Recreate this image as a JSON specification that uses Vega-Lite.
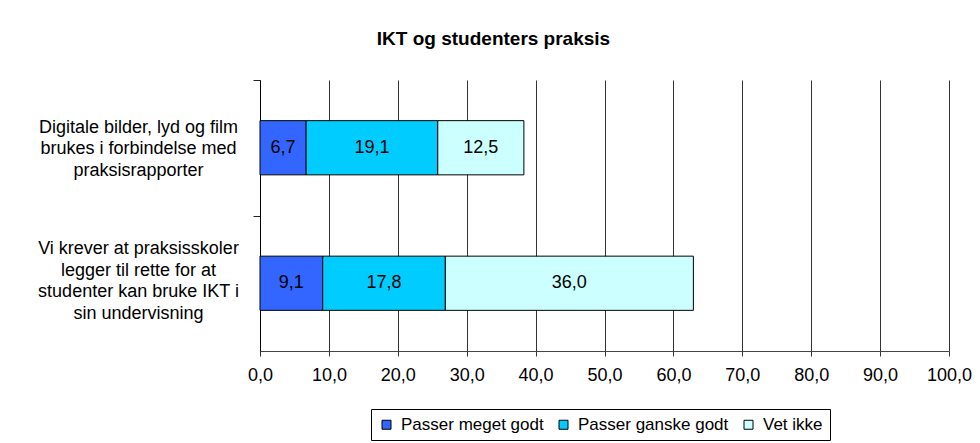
{
  "$schema": "https://vega.github.io/schema/vega-lite/v6.json",
  "width": 689,
  "height": 271,
  "autosize": {"type": "none"},
  "padding": {"left": 260, "top": 80, "right": 31, "bottom": 92},
  "background": "white",
  "title": {
    "text": "IKT og studenters praksis",
    "font": "Liberation Sans",
    "fontSize": 19,
    "fontWeight": "bold",
    "color": "black",
    "anchor": "middle",
    "frame": "group",
    "dx": -111,
    "offset": 31
  },
  "data": {
    "values": [
      {"q": "Digitale bilder, lyd og film|brukes i forbindelse med|praksisrapporter", "kat": "Passer meget godt", "nr": 1, "v": 6.7},
      {"q": "Digitale bilder, lyd og film|brukes i forbindelse med|praksisrapporter", "kat": "Passer ganske godt", "nr": 2, "v": 19.1},
      {"q": "Digitale bilder, lyd og film|brukes i forbindelse med|praksisrapporter", "kat": "Vet ikke", "nr": 3, "v": 12.5},
      {"q": "Vi krever at praksisskoler|legger til rette for at|studenter kan bruke IKT i|sin undervisning", "kat": "Passer meget godt", "nr": 1, "v": 9.1},
      {"q": "Vi krever at praksisskoler|legger til rette for at|studenter kan bruke IKT i|sin undervisning", "kat": "Passer ganske godt", "nr": 2, "v": 17.8},
      {"q": "Vi krever at praksisskoler|legger til rette for at|studenter kan bruke IKT i|sin undervisning", "kat": "Vet ikke", "nr": 3, "v": 36.0}
    ]
  },
  "encoding": {
    "y": {
      "field": "q",
      "type": "nominal",
      "sort": null,
      "scale": {"paddingInner": 0.6, "paddingOuter": 0.3},
      "axis": {
        "title": null,
        "labelExpr": "split(datum.label, '|')",
        "labelAlign": "center",
        "labelBaseline": "middle",
        "labelPadding": 115,
        "labelLineHeight": 21.5,
        "labelFont": "Liberation Sans",
        "labelFontSize": 18,
        "labelColor": "black",
        "labelLimit": 400,
        "tickSize": 7,
        "tickColor": "#222",
        "tickOffset": -67.75,
        "labelOffset": {"condition": {"test": "indexof(datum.label, 'Digitale') >= 0", "value": 47}, "value": 33},
        "domainColor": "black",
        "grid": false
      }
    }
  },
  "layer": [
    {
      "mark": {"type": "bar", "stroke": "black", "strokeWidth": 1},
      "encoding": {
        "x": {
          "field": "v",
          "type": "quantitative",
          "stack": "zero",
          "scale": {"domain": [0, 100], "nice": false},
          "axis": {
            "title": null,
            "values": [0, 10, 20, 30, 40, 50, 60, 70, 80, 90, 100],
            "format": ".1f",
            "labelFont": "Liberation Sans",
            "labelFontSize": 18,
            "labelColor": "black",
            "labelPadding": 10,
            "tickSize": 5,
            "tickColor": "#333",
            "domainColor": "#444",
            "grid": true,
            "gridColor": "#333",
            "gridOpacity": 1,
            "labelFlush": false
          }
        },
        "order": {"field": "nr", "type": "quantitative", "sort": "ascending"},
        "color": {
          "field": "kat",
          "type": "nominal",
          "sort": ["Passer meget godt", "Passer ganske godt", "Vet ikke"],
          "scale": {
            "domain": ["Passer meget godt", "Passer ganske godt", "Vet ikke"],
            "range": ["#3366FF", "#00CCFF", "#CCFFFF"]
          },
          "legend": {
            "title": null,
            "orient": "none",
            "direction": "horizontal",
            "legendX": 111,
            "legendY": 329,
            "symbolType": "square",
            "symbolSize": 81,
            "symbolStrokeColor": "black",
            "symbolStrokeWidth": 1,
            "symbolOpacity": 1,
            "labelFont": "Liberation Sans",
            "labelFontSize": 17,
            "labelColor": "black",
            "labelOffset": 6,
            "columnPadding": 11,
            "padding": 7,
            "strokeColor": "black",
            "fillColor": "white"
          }
        }
      }
    },
    {
      "mark": {"type": "text", "font": "Liberation Sans", "fontSize": 18, "color": "black", "baseline": "middle", "align": "center"},
      "encoding": {
        "x": {"field": "v", "type": "quantitative", "stack": "zero", "bandPosition": 0.5},
        "detail": {"field": "kat", "type": "nominal"},
        "order": {"field": "nr", "type": "quantitative", "sort": "ascending"},
        "text": {"field": "v", "type": "quantitative", "format": ".1f"}
      }
    }
  ],
  "config": {
    "view": {"stroke": null},
    "locale": {"number": {"decimal": ",", "thousands": " ", "grouping": [3], "currency": ["", " kr"]}}
  }
}
